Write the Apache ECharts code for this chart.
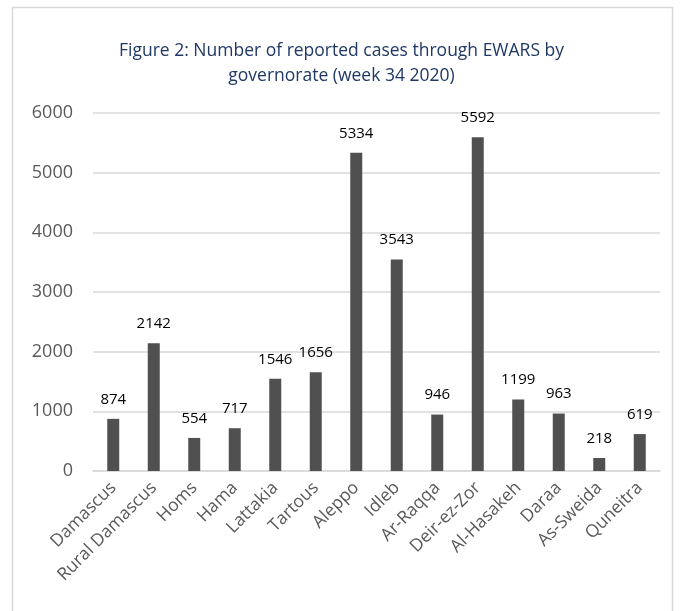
<!DOCTYPE html>
<html><head><meta charset="utf-8">
<script src="https://cdn.jsdelivr.net/npm/echarts@6/dist/echarts.min.js"></script>
<style>html,body{margin:0;padding:0;background:#fff}#c{width:683px;height:611px}</style>
</head><body><div id="c"></div>
<script>
const categories = ["Damascus","Rural Damascus","Homs","Hama","Lattakia","Tartous","Aleppo","Idleb","Ar-Raqqa","Deir-ez-Zor","Al-Hasakeh","Daraa","As-Sweida","Quneitra"];
const cases = [874,2142,554,717,1546,1656,5334,3543,946,5592,1199,963,218,619];
const yTicks = [0,1000,2000,3000,4000,5000,6000];
const titleText = "Figure 2: Number of reported cases through EWARS by\ngovernorate (week 34 2020)";
const FONT = "Open Sans";
const chart = echarts.init(document.getElementById('c'));
chart.setOption({
  animation:false,
  graphic:[{type:'rect',shape:{x:12.5,y:7.5,width:660,height:620},style:{fill:'none',stroke:'#D9D9D9',lineWidth:1.5}}],
  title:{text:titleText,left:'center',top:34,textStyle:{fontFamily:FONT,fontSize:17.5,fontWeight:'normal',color:'#1F3864',lineHeight:25}},
  grid:{left:93,right:23,top:113,bottom:140,containLabel:false},
  xAxis:{type:'category',data:categories,
    axisLine:{lineStyle:{color:'#D9D9D9',width:1.5}},axisTick:{show:false},
    axisLabel:{rotate:45,interval:0,fontFamily:FONT,fontSize:17.5,color:'#595959',margin:14}},
  yAxis:{type:'value',min:yTicks[0],max:yTicks[yTicks.length-1],interval:1000,
    axisLine:{show:false},axisTick:{show:false},
    splitLine:{lineStyle:{color:'#D9D9D9',width:1.5}},
    axisLabel:{fontFamily:FONT,fontSize:18,color:'#595959',margin:20,formatter:v=>String(v)}},
  series:[{type:'bar',data:cases,barWidth:12,itemStyle:{color:'#505050'},
    label:{show:true,position:'top',distance:12,fontFamily:FONT,fontSize:15,color:'#000'}}]
});
</script></body></html>
